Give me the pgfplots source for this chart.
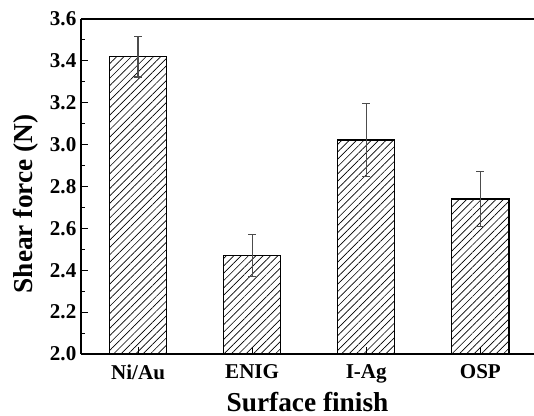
\documentclass[border=0pt]{standalone}
\usepackage{fontspec}
\setmainfont{Liberation Serif}
\usepackage{pgfplots}
\pgfplotsset{compat=1.18}
\usetikzlibrary{patterns.meta}

\begin{document}
\begin{tikzpicture}
  % page = 534x416 px, 1px = 0.75pt, axis box at (0,0)
  \useasboundingbox (-60.75pt,-46.5pt) rectangle (339.75pt,265.5pt);
  \begin{axis}[
      scale only axis,
      width=339.75pt,
      height=251.25pt,
      ybar,
      bar width=0.5,
      xmin=0.5, xmax=4.47,
      ymin=2.0, ymax=3.6,
      xtick={1,2,3,4},
      xticklabels={Ni/Au, ENIG, I-Ag, OSP},
      ytick={2.0,2.2,...,3.6},
      minor y tick num=1,
      axis x line=box,
      axis y line=left,
      axis line style={line width=1pt, -},
      tick align=inside,
      major tick length=5pt,
      minor tick length=3pt,
      tick style={black, line width=0.8pt},
      xtick pos=bottom,
      ytick pos=left,
      yticklabel style={/pgf/number format/.cd, fixed, fixed zerofill, precision=1,
                        assume math mode=true},
      ticklabel style={font=\fontsize{15.8}{18}\selectfont\bfseries},
      xticklabel style={yshift=-4.5pt},
      xlabel={Surface finish},
      ylabel={Shear force (N)},
      label style={font=\fontsize{20.5}{24}\selectfont\bfseries},
      xlabel style={yshift=0pt},
      ylabel style={at={(ticklabel cs:0.448)}, yshift=1.5pt},
      clip=true,
    ]
    \addplot[
        draw=black, line width=0.9pt,
        pattern={Lines[angle=45, distance=3.9pt, line width=0.5pt]},
        pattern color=black,
        error bars/.cd,
          y dir=both, y explicit,
          error bar style={black!70, line width=0.9pt},
          error mark options={rotate=90, mark size=3pt, black!70, line width=0.9pt},
      ]
      coordinates {
        (1, 3.42) +- (0, 0.097)
        (2, 2.47) +- (0, 0.101)
        (3, 3.022) +- (0, 0.173)
        (4, 2.74) +- (0, 0.13)
      };
  \end{axis}
\end{tikzpicture}
\end{document}
